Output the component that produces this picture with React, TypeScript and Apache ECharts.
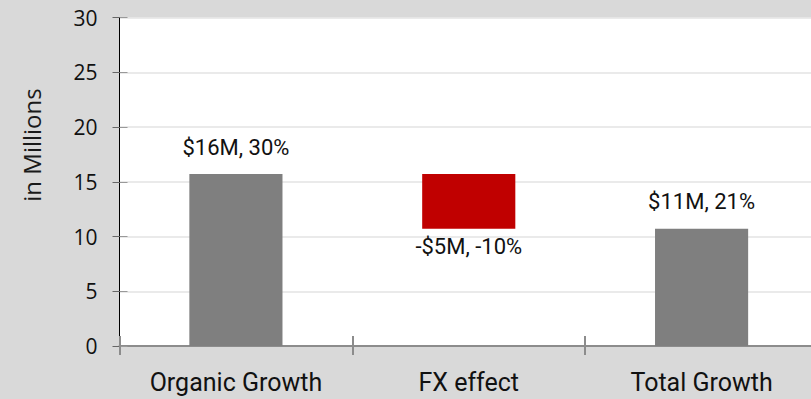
import React, { useEffect, useRef } from "react";
import * as echarts from "echarts";

// Revenue growth bridge (values in millions)
const categories = ["Organic Growth", "FX effect", "Total Growth"];
const baseValues = [0, 10.7, 0];
const deltaValues = [15.7, 5.0, 10.7];
const signs = [1, -1, 1];
const percentLabels = ["30%", "-10%", "21%"];
const barColors = ["#7f7f7f", "#c00000", "#7f7f7f"];
const yTicks = { min: 0, max: 30, interval: 5 };

const LABEL_FONT = "Roboto";
const SANS = "Open Sans";

function moneyLabel(i: number): string {
  const v = Math.round(deltaValues[i]) * signs[i];
  const money = v < 0 ? `-$${Math.abs(v)}M` : `$${v}M`;
  return `${money}, ${percentLabels[i]}`;
}

export default function App() {
  const ref = useRef<HTMLDivElement>(null);

  useEffect(() => {
    document.body.style.margin = "0";
    document.body.style.overflow = "hidden";
    const chart = echarts.init(ref.current!, null, { renderer: "svg" });
    const tickColor = "#8c8c8c";
    chart.setOption({
      animation: false,
      backgroundColor: "#d9d9d9",
      // the plot area runs slightly past the right edge of the 811px view
      grid: {
        left: 119.5,
        top: 17.5,
        right: 0,
        bottom: 53,
        show: true,
        backgroundColor: "#ffffff",
        borderWidth: 0,
      },
      graphic: [
        {
          type: "text",
          x: 31,
          y: 145,
          rotation: Math.PI / 2,
          style: {
            text: "in Millions",
            fontSize: 24,
            fontFamily: SANS,
            fill: "#1a1a1a",
            align: "center",
            verticalAlign: "middle",
          },
        },
      ],
      xAxis: [
        {
          type: "category",
          data: categories,
          position: "bottom",
          axisLine: { show: true, lineStyle: { color: tickColor, width: 2 } },
          axisTick: { show: true, length: 9, lineStyle: { color: tickColor, width: 2 } },
          axisLabel: {
            interval: 0,
            margin: 24,
            color: "#111111",
            fontSize: 25,
            fontFamily: LABEL_FONT,
          },
        },
        {
          type: "category",
          data: categories,
          position: "bottom",
          axisLine: { show: false },
          axisTick: { show: true, inside: true, length: 10, lineStyle: { color: tickColor, width: 2 } },
          axisLabel: { show: false },
        },
      ],
      yAxis: [
        {
          type: "value",
          min: yTicks.min,
          max: yTicks.max,
          interval: yTicks.interval,
          axisLine: { show: true, lineStyle: { color: "#000000", width: 1 } },
          axisTick: { show: true, length: 7, lineStyle: { color: "#666666" } },
          axisLabel: {
            margin: 22,
            color: "#111111",
            fontSize: 21,
            fontFamily: SANS,
          },
          splitLine: { show: true, lineStyle: { color: "#e3e3e3", width: 1.5 } },
        },
        {
          type: "value",
          min: yTicks.min,
          max: yTicks.max,
          interval: yTicks.interval,
          position: "left",
          axisLine: { show: false },
          axisTick: { show: true, inside: true, length: 8, lineStyle: { color: "#999999" } },
          axisLabel: { show: false },
          splitLine: { show: false },
        },
      ],
      series: [
        {
          type: "bar",
          stack: "bridge",
          barWidth: "40%",
          itemStyle: { color: "transparent" },
          emphasis: { disabled: true },
          data: baseValues,
        },
        {
          type: "bar",
          stack: "bridge",
          barWidth: "40%",
          data: deltaValues.map((v, i) => ({
            value: v,
            itemStyle: { color: barColors[i] },
            label: {
              show: true,
              position: signs[i] < 0 ? "bottom" : "top",
              distance: signs[i] < 0 ? 7 : 16,
              formatter: () => moneyLabel(i),
              color: "#111111",
              fontSize: 22,
              fontFamily: LABEL_FONT,
            },
          })),
        },
      ],
    });
    return () => chart.dispose();
  }, []);

  return <div ref={ref} style={{ width: 818, height: 399 }} />;
}
